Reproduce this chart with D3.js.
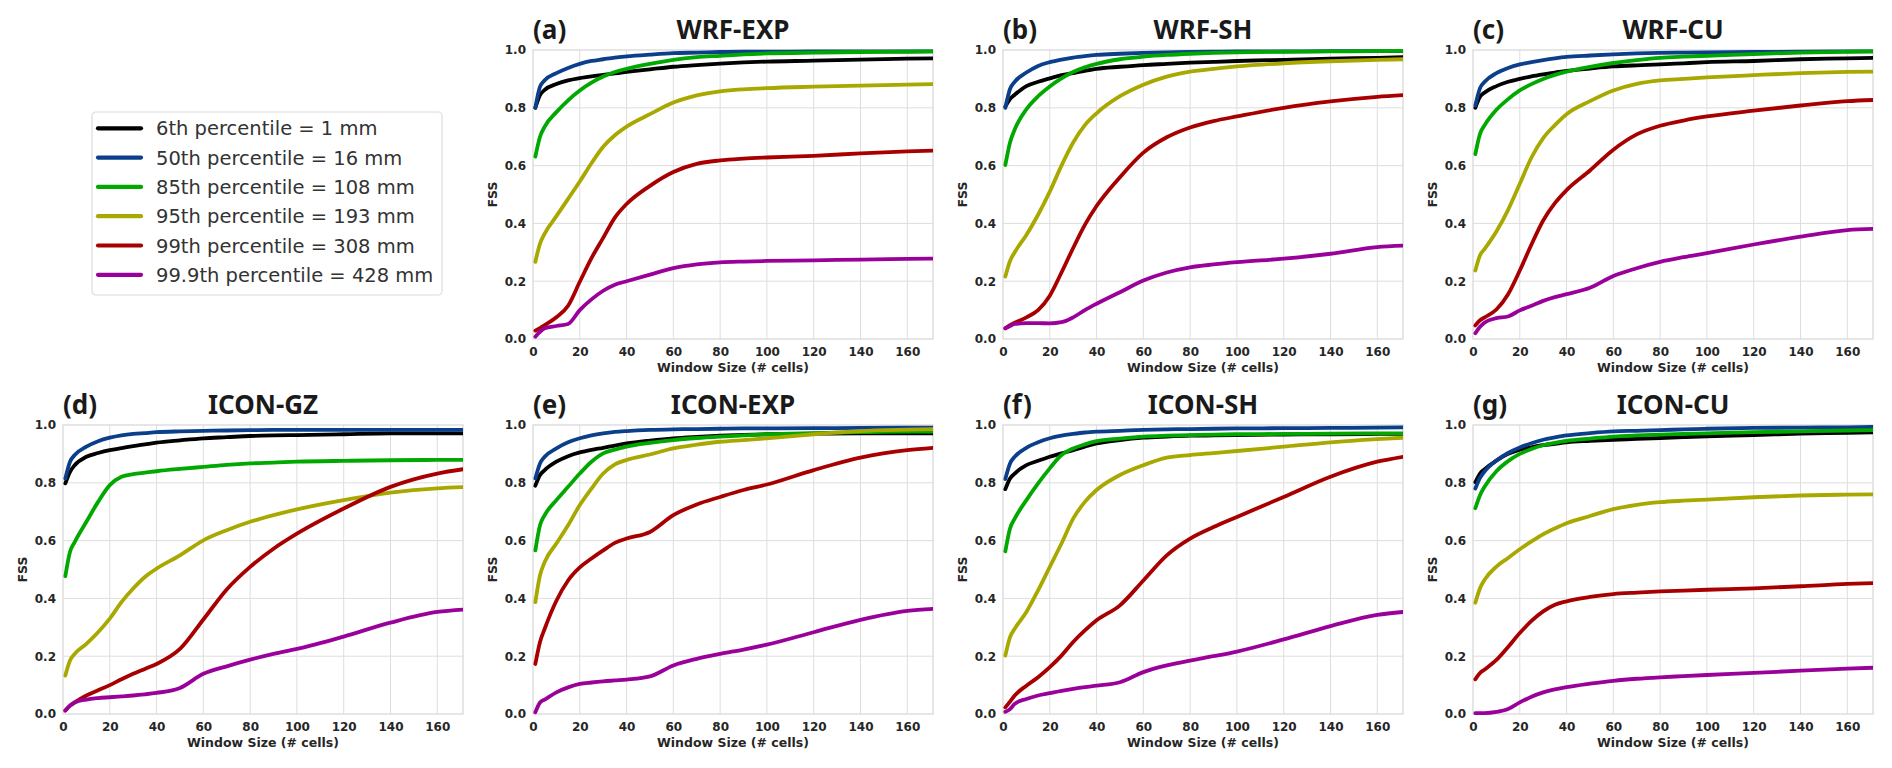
<!DOCTYPE html>
<html>
<head>
<meta charset="utf-8">
<script src="https://cdn.jsdelivr.net/npm/d3@7/dist/d3.min.js"></script>
<style>
  body { margin: 0; background: #fff; }
  .tick-label { font-family: "DejaVu Sans", sans-serif; font-weight: bold; font-size: 12px; fill: #262626; }
  .axis-label { font-family: "DejaVu Sans", sans-serif; font-weight: bold; font-size: 12.5px; fill: #262626; }
  .panel-title { font-family: "Noto Sans", "Open Sans", sans-serif; font-weight: bold; font-size: 26px; fill: #1a1a1a; }
  .legend-text { font-family: "DejaVu Sans", sans-serif; font-size: 19.5px; fill: #333; }
</style>
</head>
<body>
<svg id="chart" width="1892" height="768"></svg>
<script>
const windowSizes = [1, 3, 5, 10, 15, 20, 25, 30, 35, 40, 50, 60, 70, 80, 90, 100, 120, 140, 160, 171];

const seriesLabels = [
    '6th percentile = 1 mm',
    '50th percentile = 16 mm',
    '85th percentile = 108 mm',
    '95th percentile = 193 mm',
    '99th percentile = 308 mm',
    '99.9th percentile = 428 mm'
];
const seriesColors = ['#000000', '#0b3f8c', '#00a800', '#a8a800', '#a80000', '#9a009a'];

const panelTags = ['(a)', '(b)', '(c)', '(d)', '(e)', '(f)', '(g)'];
const panelTitles = ['WRF-EXP', 'WRF-SH', 'WRF-CU', 'ICON-GZ', 'ICON-EXP', 'ICON-SH', 'ICON-CU'];

const xTicks = [0, 20, 40, 60, 80, 100, 120, 140, 160];
const yTicks = [0, 0.2, 0.4, 0.6, 0.8, 1.0];

// FSS per panel, one row per percentile (same order as seriesLabels)
const wrfExp = [
    [0.800, 0.844, 0.862, 0.882, 0.895, 0.903, 0.909, 0.914, 0.919, 0.924, 0.933, 0.942, 0.948, 0.953, 0.957, 0.960, 0.963, 0.967, 0.970, 0.971],
    [0.800, 0.873, 0.895, 0.920, 0.938, 0.952, 0.962, 0.968, 0.974, 0.978, 0.984, 0.989, 0.991, 0.993, 0.994, 0.994, 0.995, 0.995, 0.995, 0.995],
    [0.631, 0.700, 0.735, 0.785, 0.826, 0.860, 0.887, 0.908, 0.924, 0.935, 0.952, 0.966, 0.975, 0.980, 0.985, 0.988, 0.991, 0.993, 0.994, 0.995],
    [0.267, 0.330, 0.365, 0.425, 0.485, 0.545, 0.608, 0.665, 0.705, 0.735, 0.778, 0.818, 0.843, 0.857, 0.864, 0.868, 0.873, 0.877, 0.880, 0.882],
    [0.029, 0.038, 0.048, 0.075, 0.115, 0.198, 0.280, 0.350, 0.420, 0.467, 0.530, 0.578, 0.606, 0.618, 0.624, 0.628, 0.634, 0.642, 0.649, 0.652],
    [0.008, 0.025, 0.037, 0.045, 0.052, 0.100, 0.137, 0.167, 0.188, 0.200, 0.223, 0.245, 0.258, 0.265, 0.268, 0.270, 0.272, 0.275, 0.277, 0.278]
];
const wrfSh = [
    [0.804, 0.830, 0.845, 0.875, 0.890, 0.902, 0.913, 0.920, 0.928, 0.935, 0.942, 0.948, 0.952, 0.956, 0.959, 0.962, 0.966, 0.970, 0.973, 0.975],
    [0.800, 0.865, 0.890, 0.922, 0.945, 0.958, 0.967, 0.974, 0.979, 0.983, 0.987, 0.990, 0.992, 0.993, 0.994, 0.995, 0.995, 0.996, 0.996, 0.996],
    [0.602, 0.680, 0.725, 0.795, 0.840, 0.874, 0.902, 0.924, 0.940, 0.952, 0.968, 0.977, 0.983, 0.987, 0.990, 0.992, 0.994, 0.995, 0.996, 0.997],
    [0.216, 0.270, 0.300, 0.360, 0.430, 0.510, 0.600, 0.680, 0.740, 0.781, 0.840, 0.880, 0.908, 0.925, 0.935, 0.943, 0.954, 0.961, 0.966, 0.968],
    [0.037, 0.048, 0.056, 0.075, 0.100, 0.150, 0.230, 0.315, 0.395, 0.460, 0.560, 0.645, 0.698, 0.732, 0.754, 0.770, 0.800, 0.822, 0.838, 0.844],
    [0.037, 0.045, 0.052, 0.055, 0.055, 0.054, 0.058, 0.075, 0.100, 0.122, 0.162, 0.202, 0.230, 0.248, 0.258, 0.266, 0.278, 0.295, 0.318, 0.323]
];
const wrfCu = [
    [0.800, 0.838, 0.853, 0.875, 0.890, 0.900, 0.909, 0.916, 0.922, 0.928, 0.936, 0.943, 0.947, 0.950, 0.954, 0.958, 0.962, 0.968, 0.971, 0.973],
    [0.808, 0.868, 0.890, 0.920, 0.938, 0.950, 0.958, 0.965, 0.971, 0.976, 0.981, 0.985, 0.988, 0.990, 0.991, 0.992, 0.993, 0.994, 0.995, 0.995],
    [0.640, 0.710, 0.740, 0.793, 0.830, 0.860, 0.882, 0.900, 0.914, 0.925, 0.942, 0.955, 0.965, 0.973, 0.977, 0.980, 0.986, 0.991, 0.994, 0.995],
    [0.237, 0.290, 0.312, 0.372, 0.447, 0.537, 0.628, 0.695, 0.740, 0.778, 0.823, 0.860, 0.883, 0.895, 0.900, 0.905, 0.913, 0.920, 0.924, 0.925],
    [0.047, 0.065, 0.075, 0.102, 0.155, 0.237, 0.327, 0.410, 0.470, 0.515, 0.583, 0.655, 0.708, 0.738, 0.756, 0.770, 0.790, 0.808, 0.823, 0.827],
    [0.020, 0.042, 0.057, 0.072, 0.078, 0.099, 0.115, 0.132, 0.145, 0.155, 0.177, 0.218, 0.245, 0.267, 0.283, 0.297, 0.327, 0.354, 0.377, 0.381]
];
const iconGz = [
    [0.798, 0.838, 0.861, 0.890, 0.903, 0.913, 0.920, 0.927, 0.933, 0.939, 0.947, 0.954, 0.958, 0.962, 0.964, 0.965, 0.968, 0.971, 0.971, 0.971],
    [0.815, 0.873, 0.896, 0.925, 0.944, 0.956, 0.964, 0.969, 0.972, 0.975, 0.978, 0.980, 0.981, 0.982, 0.983, 0.983, 0.983, 0.983, 0.983, 0.983],
    [0.477, 0.561, 0.595, 0.665, 0.734, 0.792, 0.821, 0.830, 0.835, 0.840, 0.848, 0.855, 0.862, 0.867, 0.870, 0.873, 0.876, 0.878, 0.879, 0.879],
    [0.133, 0.185, 0.208, 0.243, 0.283, 0.330, 0.387, 0.434, 0.474, 0.503, 0.549, 0.601, 0.636, 0.665, 0.688, 0.708, 0.740, 0.766, 0.781, 0.785],
    [0.012, 0.029, 0.040, 0.064, 0.082, 0.100, 0.120, 0.139, 0.156, 0.173, 0.225, 0.327, 0.431, 0.509, 0.572, 0.624, 0.711, 0.786, 0.832, 0.847],
    [0.012, 0.029, 0.040, 0.050, 0.055, 0.058, 0.061, 0.064, 0.068, 0.073, 0.090, 0.139, 0.165, 0.188, 0.208, 0.225, 0.268, 0.316, 0.353, 0.361]
];
const iconExp = [
    [0.790, 0.827, 0.844, 0.873, 0.892, 0.905, 0.914, 0.921, 0.929, 0.936, 0.946, 0.954, 0.959, 0.963, 0.966, 0.968, 0.970, 0.971, 0.971, 0.971],
    [0.815, 0.867, 0.890, 0.919, 0.940, 0.954, 0.964, 0.971, 0.976, 0.979, 0.983, 0.985, 0.986, 0.987, 0.988, 0.988, 0.989, 0.990, 0.991, 0.991],
    [0.566, 0.653, 0.688, 0.740, 0.786, 0.832, 0.873, 0.902, 0.915, 0.925, 0.938, 0.948, 0.955, 0.960, 0.964, 0.968, 0.972, 0.975, 0.977, 0.977],
    [0.387, 0.480, 0.526, 0.590, 0.653, 0.723, 0.780, 0.832, 0.864, 0.879, 0.898, 0.919, 0.932, 0.942, 0.948, 0.954, 0.968, 0.979, 0.984, 0.986],
    [0.173, 0.249, 0.295, 0.392, 0.462, 0.507, 0.538, 0.566, 0.592, 0.607, 0.630, 0.688, 0.725, 0.751, 0.775, 0.794, 0.844, 0.887, 0.913, 0.921],
    [0.006, 0.040, 0.050, 0.075, 0.092, 0.104, 0.109, 0.113, 0.116, 0.119, 0.130, 0.168, 0.191, 0.208, 0.223, 0.240, 0.283, 0.326, 0.357, 0.364]
];
const iconSh = [
    [0.778, 0.815, 0.832, 0.861, 0.876, 0.890, 0.902, 0.913, 0.925, 0.936, 0.948, 0.956, 0.960, 0.963, 0.964, 0.965, 0.967, 0.968, 0.969, 0.969],
    [0.813, 0.867, 0.890, 0.921, 0.940, 0.954, 0.963, 0.969, 0.974, 0.977, 0.980, 0.983, 0.985, 0.986, 0.987, 0.988, 0.989, 0.990, 0.991, 0.992],
    [0.563, 0.642, 0.676, 0.740, 0.798, 0.850, 0.896, 0.919, 0.933, 0.944, 0.953, 0.960, 0.963, 0.965, 0.967, 0.968, 0.969, 0.970, 0.971, 0.971],
    [0.202, 0.266, 0.295, 0.353, 0.428, 0.509, 0.590, 0.676, 0.734, 0.775, 0.827, 0.861, 0.887, 0.896, 0.903, 0.910, 0.925, 0.940, 0.951, 0.956],
    [0.023, 0.043, 0.064, 0.098, 0.127, 0.162, 0.202, 0.249, 0.289, 0.324, 0.376, 0.462, 0.549, 0.607, 0.647, 0.682, 0.751, 0.821, 0.873, 0.890],
    [0.008, 0.017, 0.035, 0.052, 0.064, 0.072, 0.080, 0.087, 0.093, 0.098, 0.110, 0.145, 0.168, 0.185, 0.200, 0.216, 0.258, 0.304, 0.343, 0.353]
];
const iconCu = [
    [0.802, 0.832, 0.847, 0.877, 0.900, 0.915, 0.923, 0.930, 0.935, 0.940, 0.945, 0.949, 0.952, 0.955, 0.958, 0.961, 0.965, 0.970, 0.973, 0.975],
    [0.780, 0.817, 0.840, 0.877, 0.903, 0.922, 0.937, 0.949, 0.957, 0.964, 0.972, 0.978, 0.980, 0.982, 0.985, 0.987, 0.990, 0.991, 0.992, 0.993],
    [0.712, 0.757, 0.787, 0.840, 0.875, 0.900, 0.917, 0.930, 0.938, 0.945, 0.953, 0.960, 0.964, 0.967, 0.969, 0.971, 0.975, 0.978, 0.981, 0.982],
    [0.385, 0.435, 0.465, 0.510, 0.540, 0.570, 0.597, 0.622, 0.642, 0.660, 0.685, 0.709, 0.724, 0.733, 0.738, 0.742, 0.750, 0.756, 0.759, 0.760],
    [0.120, 0.142, 0.154, 0.187, 0.232, 0.280, 0.322, 0.355, 0.378, 0.390, 0.405, 0.415, 0.420, 0.424, 0.427, 0.430, 0.435, 0.442, 0.450, 0.453],
    [0.003, 0.003, 0.003, 0.007, 0.017, 0.040, 0.060, 0.075, 0.085, 0.093, 0.105, 0.115, 0.122, 0.127, 0.131, 0.135, 0.142, 0.150, 0.157, 0.160]
];

const panelData = [wrfExp, wrfSh, wrfCu, iconGz, iconExp, iconSh, iconCu];

// layout: 2 x 4 grid, top-left cell holds the legend
const colLefts = [63, 533, 1003, 1473];
const rowTops = [50, 425];
const panelCells = [[0, 1], [0, 2], [0, 3], [1, 0], [1, 1], [1, 2], [1, 3]];
const plotW = 400, plotH = 289;

const svg = d3.select('#chart');

const x = d3.scaleLinear().domain([0, 171]).range([0, plotW]);
const y = d3.scaleLinear().domain([0, 1]).range([plotH, 0]);

const line = d3.line()
    .x((d, i) => x(windowSizes[i]))
    .y(d => y(d))
    .curve(d3.curveMonotoneX);

panelData.forEach((rows, p) => {
    const [r, c] = panelCells[p];
    const g = svg.append('g')
        .attr('transform', `translate(${colLefts[c]},${rowTops[r]})`);

    // grid
    g.append('g')
        .selectAll('line')
        .data(xTicks.slice(1))
        .enter().append('line')
        .attr('x1', d => x(d)).attr('x2', d => x(d))
        .attr('y1', 0).attr('y2', plotH)
        .attr('stroke', '#dedede').attr('stroke-width', 1);
    g.append('g')
        .selectAll('line')
        .data(yTicks.slice(1, -1))
        .enter().append('line')
        .attr('x1', 0).attr('x2', plotW)
        .attr('y1', d => y(d)).attr('y2', d => y(d))
        .attr('stroke', '#dedede').attr('stroke-width', 1);

    // frame
    g.append('rect')
        .attr('width', plotW).attr('height', plotH)
        .attr('fill', 'none')
        .attr('stroke', '#d6d6d6').attr('stroke-width', 1.2);

    // axes via d3 with the domain/ticks hidden
    const xAxis = g.append('g')
        .attr('transform', `translate(0,${plotH})`)
        .call(d3.axisBottom(x).tickValues(xTicks).tickSize(0).tickPadding(8));
    const yAxis = g.append('g')
        .call(d3.axisLeft(y).tickValues(yTicks).tickFormat(d3.format('.1f')).tickSize(0).tickPadding(7));
    [xAxis, yAxis].forEach(a => {
        a.select('.domain').remove();
        a.selectAll('text').attr('class', 'tick-label').attr('fill', null);
    });

    g.append('text')
        .attr('class', 'axis-label')
        .attr('x', plotW / 2).attr('y', plotH + 33)
        .attr('text-anchor', 'middle')
        .text('Window Size (# cells)');
    g.append('text')
        .attr('class', 'axis-label')
        .attr('transform', `translate(-36,${plotH / 2}) rotate(-90)`)
        .attr('text-anchor', 'middle')
        .text('FSS');

    // titles
    g.append('text')
        .attr('class', 'panel-title')
        .attr('x', 0).attr('y', -11)
        .text(panelTags[p]);
    g.append('text')
        .attr('class', 'panel-title')
        .attr('x', plotW / 2).attr('y', -11)
        .attr('text-anchor', 'middle')
        .text(panelTitles[p]);

    // curves
    const clipId = 'clip' + p;
    g.append('clipPath').attr('id', clipId)
        .append('rect').attr('x', -3).attr('y', -3).attr('width', plotW + 3).attr('height', plotH + 6);
    g.append('g')
        .attr('clip-path', `url(#${clipId})`)
        .selectAll('path')
        .data(rows)
        .enter().append('path')
        .attr('d', d => line(d))
        .attr('fill', 'none')
        .attr('stroke', (d, i) => seriesColors[i])
        .attr('stroke-width', 3.8)
        .attr('stroke-linecap', 'round')
        .attr('stroke-linejoin', 'round');
});

// legend
const legend = svg.append('g').attr('transform', 'translate(92,112)');
legend.append('rect')
    .attr('width', 350).attr('height', 183)
    .attr('rx', 4)
    .attr('fill', '#fff')
    .attr('stroke', '#dcdcdc').attr('stroke-width', 1.2);
const items = legend.selectAll('g.item')
    .data(seriesLabels)
    .enter().append('g')
    .attr('class', 'item')
    .attr('transform', (d, i) => `translate(0,${16.3 + i * 29.3})`);
items.append('line')
    .attr('x1', 6).attr('x2', 49)
    .attr('stroke', (d, i) => seriesColors[i])
    .attr('stroke-width', 4.2)
    .attr('stroke-linecap', 'round');
items.append('text')
    .attr('class', 'legend-text')
    .attr('x', 64).attr('y', 7)
    .text(d => d);
</script>
</body>
</html>
